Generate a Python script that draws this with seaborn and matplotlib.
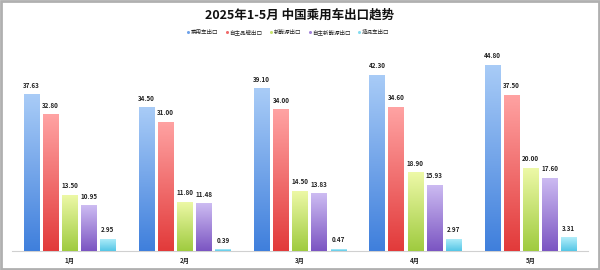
import numpy as np
import pandas as pd
import matplotlib
matplotlib.use("Agg")
import matplotlib.pyplot as plt
import seaborn as sns
from matplotlib.colors import LinearSegmentedColormap
from matplotlib.patches import Rectangle
from matplotlib.lines import Line2D

months = ["1月", "2月", "3月", "4月", "5月"]
series_names = ["乘用车出口", "自主品牌出口", "新能源出口", "自主新能源出口", "插混车出口"]
v_total = [37.63, 34.50, 39.10, 42.30, 44.80]
v_own = [32.80, 31.00, 34.00, 34.60, 37.50]
v_nev = [13.50, 11.80, 14.50, 18.90, 20.00]
v_own_nev = [10.95, 11.48, 13.83, 15.93, 17.60]
v_other = [2.95, 0.39, 0.47, 2.97, 3.31]

top_colors = ["#a9ccf7", "#ffa3a3", "#eef9a8", "#cdbcf2", "#b3eefa"]
bot_colors = ["#3f7fdc", "#e23a3a", "#9fcb3f", "#7b55c2", "#55c6e6"]
mid_colors = ["#6fa2ea", "#f06a6a", "#c7e46f", "#a284da", "#84dcf0"]

sns.set_theme(style="white")
plt.rcParams["font.family"] = ["Noto Sans CJK SC", "DejaVu Sans"]

rows = []
for vals, name in zip([v_total, v_own, v_nev, v_own_nev, v_other], series_names):
    for m, v in zip(months, vals):
        rows.append({"月份": m, "类别": name, "值": v})
df = pd.DataFrame(rows)

fig = plt.figure(figsize=(6, 2.7), dpi=100)
ax = fig.add_axes([0.02, 0.0704, 0.96, 0.763])
sns.barplot(data=df, x="月份", y="值", hue="类别", order=months, hue_order=series_names,
            palette=mid_colors, width=0.83, gap=0.2, ax=ax, legend=False, errorbar=None)

# gradient fill on each bar
for container, tc, bc in zip(ax.containers, top_colors, bot_colors):
    cmap = LinearSegmentedColormap.from_list("g", [bc, tc])
    grad = np.linspace(0, 1, 256).reshape(-1, 1)
    for bar, val in zip(container.patches, container.datavalues):
        x0 = bar.get_x(); w = bar.get_width(); h = bar.get_height()
        im = ax.imshow(grad, cmap=cmap, origin="lower", aspect="auto",
                       extent=(x0, x0 + w, 0, h), zorder=3)
        im.set_clip_path(bar)
        bar.set_edgecolor("none")
        ax.annotate(f"{val:.2f}", (x0 + w / 2, h), xytext=(0, 4), textcoords="offset points",
                    ha="center", va="bottom", fontsize=4.5, fontweight="bold", color="#222222",
                    zorder=5)
ax.set_xlim(-0.5, 4.5)
ax.set_ylim(0, 49.5)

for s in ["top", "right", "left"]:
    ax.spines[s].set_visible(False)
ax.spines["bottom"].set_color("#d0d0d0")
ax.spines["bottom"].set_linewidth(0.8)
ax.set_yticks([])
ax.set_xlabel("")
ax.set_ylabel("")
ax.tick_params(axis="x", length=0, pad=4, labelsize=4.5)
for lab in ax.get_xticklabels():
    lab.set_fontweight("bold")

fig.text(0.5, 0.945, "2025年1-5月 中国乘用车出口趋势", ha="center", va="center",
         fontsize=9, fontweight="bold", color="#111111")

handles = [Line2D([], [], marker="o", linestyle="none", markersize=2.2,
                  markerfacecolor=c, markeredgecolor="none") for c in mid_colors]
fig.legend(handles, series_names, loc="center", bbox_to_anchor=(0.48, 0.88), ncol=5,
           frameon=False, fontsize=4, handlelength=0.5,
           handletextpad=0.2, columnspacing=1.3)

fig.patches.append(Rectangle((0.002, 0.003), 0.996, 0.994, transform=fig.transFigure,
                             fill=False, edgecolor="#b0b0b0", linewidth=2, zorder=10))

fig.savefig("out.png", dpi=100, facecolor="white")
